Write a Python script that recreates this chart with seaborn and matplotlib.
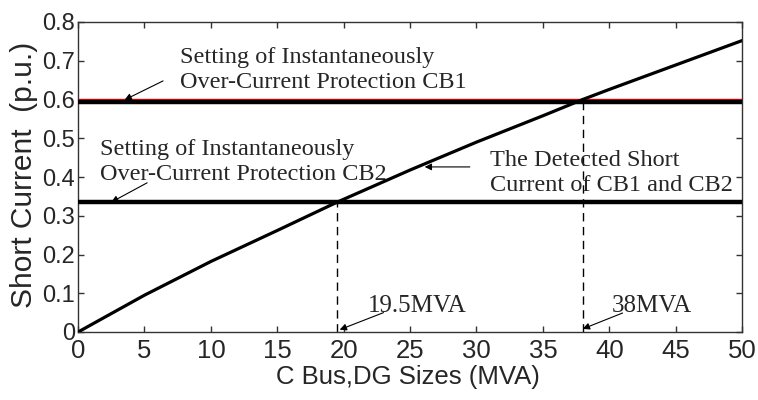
import numpy as np
import pandas as pd
import matplotlib
matplotlib.use("Agg")
import matplotlib.pyplot as plt
import seaborn as sns

# Short current seen by CB1/CB2 vs. DG size at bus C
dg_size = [0, 5, 10, 15, 19.5, 25, 30, 35, 38, 40, 45, 50]
short_current = [0, 0.095, 0.182, 0.262, 0.335, 0.418, 0.490, 0.558, 0.600, 0.626, 0.689, 0.752]

cb1_setting = 0.594
cb1_setting_red = 0.601
cb2_setting = 0.335
cross_cb2 = 19.5
cross_cb1 = 38

x_ticks = [0, 5, 10, 15, 20, 25, 30, 35, 40, 45, 50]
y_ticks = [0, 0.1, 0.2, 0.3, 0.4, 0.5, 0.6, 0.7, 0.8]
y_tick_labels = ['0', '0.1', '0.2', '0.3', '0.4', '0.5', '0.6', '0.7', '0.8']

df = pd.DataFrame({'size': dg_size, 'current': short_current})

sns.set_style('ticks')
plt.rcParams['font.family'] = ['Liberation Sans', 'DejaVu Sans']

fig = plt.figure(figsize=(7.58, 4.0), dpi=100)
ax = fig.add_axes([0.103, 0.17, 0.876, 0.775])

ax.axhline(cb1_setting_red, color='red', lw=1.0, zorder=2)
ax.axhline(cb1_setting, color='black', lw=3.2, zorder=3)
ax.axhline(cb2_setting, color='black', lw=3.2, zorder=3)
sns.lineplot(data=df, x='size', y='current', color='black', lw=2.3, ax=ax, zorder=4)

# dashed drops from the crossing points
ax.plot([cross_cb2, cross_cb2], [0, cb2_setting], color='black', lw=1.0, ls=(0, (6, 4)))
ax.plot([cross_cb1, cross_cb1], [0, cb1_setting], color='black', lw=1.0, ls=(0, (6, 4)))

ax.set_xlim(0, 50)
ax.set_ylim(0, 0.8)
ax.set_xticks(x_ticks)
ax.set_xticklabels([str(t) for t in x_ticks], fontsize=18.5)
ax.set_yticks(y_ticks)
ax.set_yticklabels(y_tick_labels, fontsize=17)
ax.tick_params(direction='in', top=True, right=True, length=4, width=1, color='#333333')
ax.tick_params(axis='y', pad=2)
ax.tick_params(axis='x', pad=5)
for s in ax.spines.values():
    s.set_visible(True)
    s.set_linewidth(1.0)
    s.set_color('#333333')

ax.set_xlabel('C Bus,DG Sizes (MVA)', fontsize=18.5, labelpad=0)
ax.xaxis.set_label_coords(0.497, -0.105)
ax.set_ylabel('Short Current  (p.u.)', fontsize=21.5, labelpad=0)
ax.yaxis.set_label_coords(-0.06, 0.506)

serif = ['Liberation Serif', 'DejaVu Serif']
arrow = dict(arrowstyle='-|>', color='black', lw=0.8, mutation_scale=10, shrinkA=0, shrinkB=0)

ax.text(7.7, 0.676, 'Setting of Instantaneously\nOver-Current Protection CB1',
        family=serif, fontsize=17.5, va='center', ha='left', linespacing=1.25)
ax.annotate('', xy=(3.5, 0.599), xytext=(6.4, 0.648), arrowprops=arrow)

ax.text(1.66, 0.439, 'Setting of Instantaneously\nOver-Current Protection CB2',
        family=serif, fontsize=17.5, va='center', ha='left', linespacing=1.25)
ax.annotate('', xy=(2.5, 0.335), xytext=(5.2, 0.385), arrowprops=arrow)

ax.text(31.0, 0.41, 'The Detected Short\nCurrent of CB1 and CB2',
        family=serif, fontsize=17.5, va='center', ha='left', linespacing=1.25)
ax.annotate('', xy=(26.1, 0.426), xytext=(29.5, 0.426), arrowprops=arrow)

ax.text(21.8, 0.052, '19.5MVA', family=serif, fontsize=18, va='baseline', ha='left')
ax.annotate('', xy=(19.7, 0.006), xytext=(23.0, 0.05), arrowprops=arrow)

ax.text(40.2, 0.052, '38MVA', family=serif, fontsize=18, va='baseline', ha='left')
ax.annotate('', xy=(38.0, 0.008), xytext=(41.0, 0.049), arrowprops=arrow)

fig.savefig('out.png', dpi=100)
